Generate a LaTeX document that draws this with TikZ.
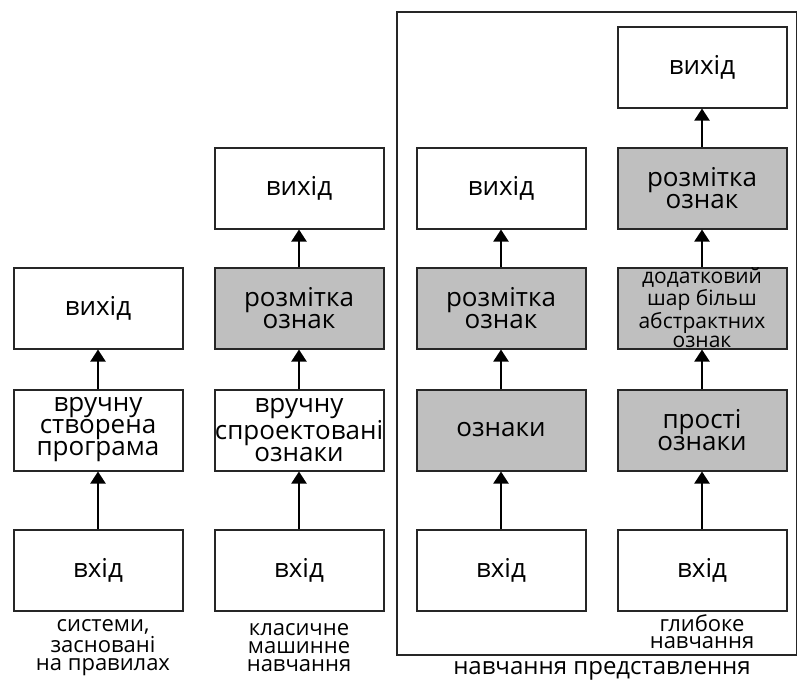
\documentclass[tikz,border=0pt]{standalone}
\usepackage{fontspec}
\setmainfont{Open Sans}
\usetikzlibrary{arrows.meta}
\tikzset{
  blok/.style={draw=black!85, line width=1pt, minimum width=84.5pt, minimum height=40.5pt,
    inner sep=0pt, align=center, font=\fontsize{13}{11}\selectfont},
  sirij/.style={blok, fill=black!25},
  strilka/.style={line width=1pt, -{Triangle[length=6pt,width=7.5pt]}},
  pidpys/.style={align=center, inner sep=0pt, font=\fontsize{11}{9}\selectfont},
}
\begin{document}
\begin{tikzpicture}[x=0.5pt,y=-0.5pt]
\useasboundingbox (0,0) rectangle (797,682);
% системи, засновані на правилах
\node[blok] (a1) at (98,570) {вхід};
\node[blok] (a2) at (98,430) {вручну\\створена\\програма};
\node[blok] (a3) at (98,308) {вихід};
\node[pidpys] (a0) at (103,648) {системи,\\засновані\\на правилах};
% класичне машинне навчання
\node[blok] (b1) at (299,570) {вхід};
\node[blok] (b2) at (299,430) {вручну\\спроектовані\\ознаки};
\node[sirij] (b3) at (299,308) {розмітка\\ознак};
\node[blok] (b4) at (299,188) {вихід};
\node[pidpys] (b0) at (299,648) {класичне\\машинне\\навчання};
% навчання представлення
\node[blok] (c1) at (501,570) {вхід};
\node[sirij] (c2) at (501,430) {ознаки};
\node[sirij] (c3) at (501,308) {розмітка\\ознак};
\node[blok] (c4) at (501,188) {вихід};
% глибоке навчання
\node[blok] (d1) at (702,570) {вхід};
\node[sirij] (d2) at (702,430) {прості\\ознаки};
\node[sirij, font=\fontsize{10.5}{9.5}\selectfont] (d3) at (702,308) {додатковий\\шар більш\\абстрактних\\ознак};
\node[sirij] (d4) at (702,188) {розмітка\\ознак};
\node[blok] (d5) at (702,67) {вихід};
\node[pidpys, font=\fontsize{11}{8.5}\selectfont] (d0) at (702,632) {глибоке\\навчання};
% рамка
\draw[line width=1pt, draw=black!85] (397,12) rectangle (797,655);
\node[pidpys, font=\fontsize{12}{12}\selectfont] (c0) at (602,671) {навчання представлення};
% стрілки
\foreach \i/\j in {a1/a2,a2/a3,b1/b2,b2/b3,b3/b4,c1/c2,c2/c3,c3/c4,d1/d2,d2/d3,d3/d4,d4/d5}
  \draw[strilka] (\i) -- (\j);
\end{tikzpicture}
\end{document}
